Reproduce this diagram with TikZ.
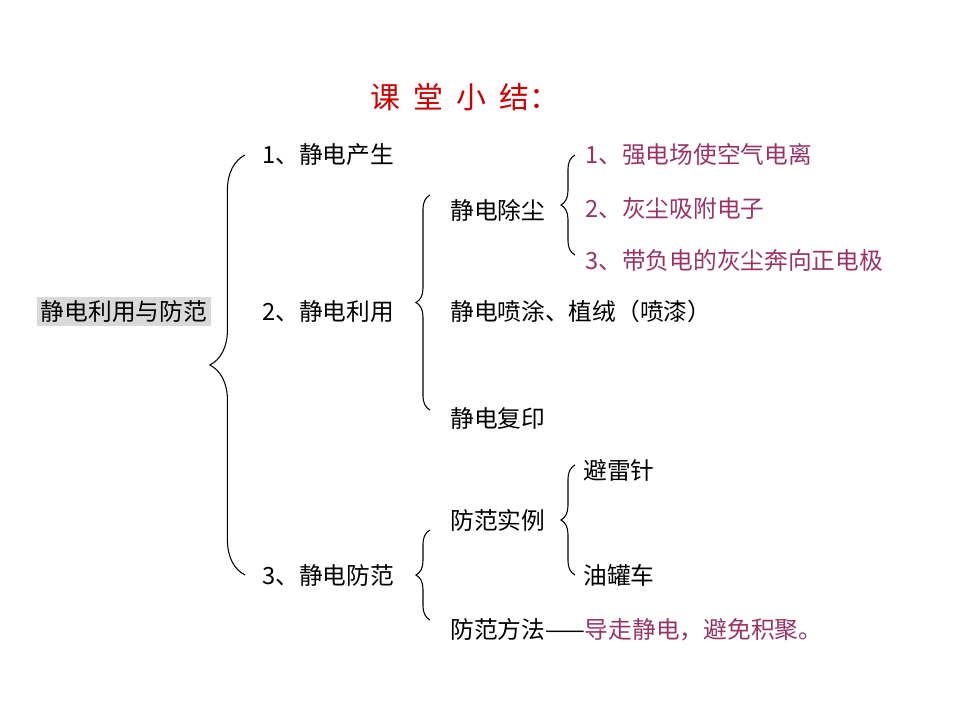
\documentclass[tikz,border=0pt]{standalone}
\usepackage{fontspec}
\setmainfont{Noto Sans CJK SC}
\usetikzlibrary{decorations.pathreplacing}
\definecolor{plum}{HTML}{993366}
\definecolor{titlered}{HTML}{CC0000}
\tikzset{
    item/.style={anchor=west, inner sep=0pt, font=\fontsize{13.5}{15}\selectfont},
    note/.style={item, text=plum},
    bracket/.style={decorate, decoration={brace, amplitude=#1}, line width=0.6pt}
}
\begin{document}
\begin{tikzpicture}[x=0.02cm, y=0.02cm]
    \useasboundingbox (0,0) rectangle (960,720);

    % title
    \node[text=titlered, font=\fontsize{17}{19}\selectfont] (title) at (465,623) {课\ \ 堂\ \ 小\ \ 结：};

    % root
    \node[fill=black!15, inner sep=2pt, font=\fontsize{13.5}{15}\selectfont] (root) at (124,408) {静电利用与防范};

    % first level
    \node[item] (produce) at (262,565) {1、静电产生};
    \node[item] (use) at (262,408) {2、静电利用};
    \node[item] (guard) at (262,145) {3、静电防范};

    % uses
    \node[item] (dust) at (450,510) {静电除尘};
    \node[item] (spray) at (450,408) {静电喷涂、植绒（喷漆）};
    \node[item] (copy) at (450,302) {静电复印};
    \node[note] (dust1) at (585,565) {1、强电场使空气电离};
    \node[note] (dust2) at (585,512) {2、灰尘吸附电子};
    \node[note] (dust3) at (585,460) {3、带负电的灰尘奔向正电极};

    % guarding
    \node[item] (case) at (450,200) {防范实例};
    \node[item] (rod) at (583,250) {避雷针};
    \node[item] (truck) at (583,145) {油罐车};
    \node[item] (way) at (450,90) {防范方法——\textcolor{plum}{导走静电，避免积聚。}};

    % braces
    \draw[bracket=20pt] (245,145) -- (245,565);
    \draw[bracket=8pt] (430,310) -- (430,525);
    \draw[bracket=8pt] (575,465) -- (575,565);
    \draw[bracket=8pt] (430,100) -- (430,190);
    \draw[bracket=8pt] (575,145) -- (575,255);
\end{tikzpicture}
\end{document}
